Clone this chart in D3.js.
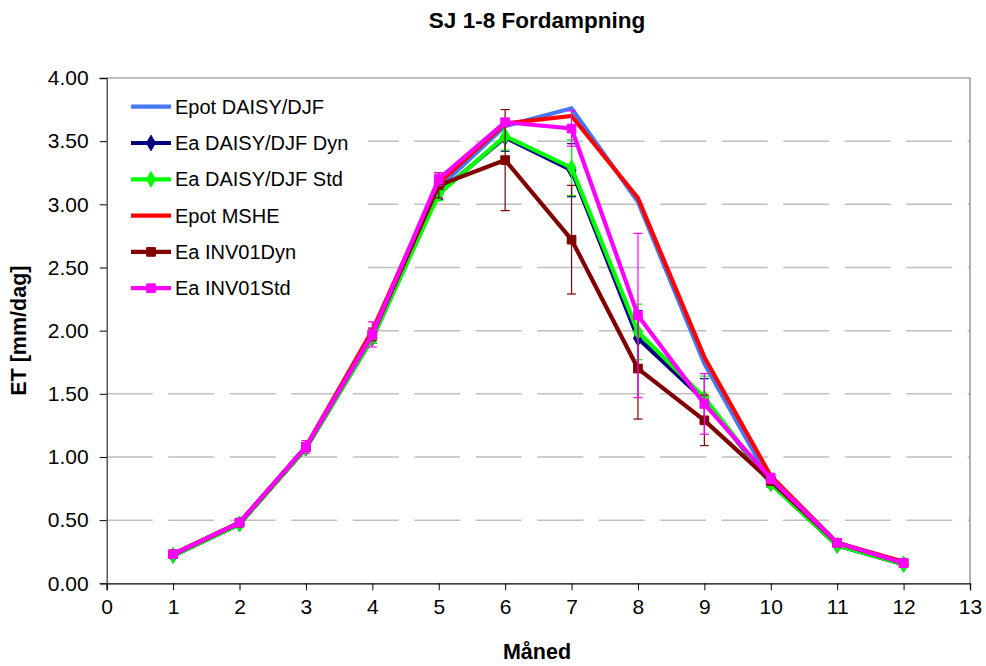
<!DOCTYPE html>
<html><head><meta charset="utf-8">
<script src="https://cdn.jsdelivr.net/npm/d3@7"></script>
<style>body{margin:0;background:#fff;} svg{display:block;font-family:"Liberation Sans",Arial,sans-serif;}</style>
</head><body>
<svg id="c" width="986" height="666"></svg>
<script>
const months = [1,2,3,4,5,6,7,8,9,10,11,12];
const xTicks = [0,1,2,3,4,5,6,7,8,9,10,11,12,13];
const yTicks = [0,0.5,1,1.5,2,2.5,3,3.5,4];
const seriesNames = ["Epot DAISY/DJF","Ea DAISY/DJF Dyn","Ea DAISY/DJF Std","Epot MSHE","Ea INV01Dyn","Ea INV01Std"];
const seriesColors = ["#4678F2","#000080","#00FF00","#FF0000","#800000","#FF00FF"];
const seriesMarkers = ["none","diamond","diamond","none","square","square"];
const epotDaisy = [0.22,0.47,1.07,1.96,3.13,3.62,3.76,3.02,1.74,0.80,0.30,0.15];
const eaDaisyDyn = [0.22,0.47,1.07,1.94,3.09,3.53,3.27,1.94,1.45,0.79,0.30,0.15];
const eaDaisyStd = [0.22,0.47,1.07,1.94,3.08,3.54,3.29,1.99,1.47,0.79,0.30,0.15];
const epotMshe = [0.23,0.48,1.08,2.00,3.17,3.64,3.70,3.05,1.79,0.85,0.32,0.17];
const eaInvDyn = [0.23,0.48,1.08,1.97,3.15,3.35,2.72,1.70,1.29,0.81,0.32,0.16];
const eaInvStd = [0.23,0.48,1.08,1.97,3.20,3.65,3.60,2.12,1.42,0.83,0.32,0.16];
const errDaisyDyn = [0.01,0.01,0.02,0.04,0.05,0.11,0.21,0.22,0.17,0.03,0.01,0.01];
const errDaisyStd = [0.01,0.01,0.02,0.04,0.05,0.11,0.22,0.22,0.17,0.03,0.01,0.01];
const errInvDyn = [0.01,0.01,0.02,0.05,0.10,0.40,0.43,0.40,0.20,0.03,0.01,0.01];
const errInvStd = [0.01,0.02,0.05,0.10,0.05,0.02,0.14,0.65,0.24,0.04,0.02,0.01];
const seriesValues = [epotDaisy,eaDaisyDyn,eaDaisyStd,epotMshe,eaInvDyn,eaInvStd];
const seriesErrors = [null,errDaisyDyn,errDaisyStd,null,errInvDyn,errInvStd];

const svg = d3.select("#c");
const L=106.7, R=970, T=78, B=583.3;
const x = d3.scaleLinear().domain([0,13]).range([L,R]);
const y = d3.scaleLinear().domain([0,4]).range([B,T]);

// title
svg.append("text").attr("x",537).attr("y",28).attr("text-anchor","middle")
  .attr("font-size",22.5).attr("font-weight","bold").text("SJ 1-8 Fordampning");

// gridlines
svg.append("g").selectAll("line").data(yTicks.filter(d=>d>0&&d<4)).join("line")
  .attr("x1",L).attr("x2",R).attr("y1",d=>y(d)).attr("y2",d=>y(d))
  .attr("stroke","#C0C0C0").attr("stroke-width",1.5).attr("stroke-dasharray","46,15.5");

// plot border top/right
svg.append("path").attr("d",`M${L},${T}H${R}V${B}`).attr("fill","none").attr("stroke","#808080").attr("stroke-width",1.2);

// legend background
svg.append("rect").attr("x",L+1).attr("y",T+4).attr("width",368-L-1).attr("height",262).attr("fill","#fff");

// axes
const xAxis = d3.axisBottom(x).tickValues(xTicks).tickSize(7).tickFormat(d3.format("d"));
const gx = svg.append("g").attr("transform",`translate(0,${B})`).call(xAxis);
gx.select(".domain").attr("stroke","#000").attr("stroke-width",1.3);
gx.selectAll(".tick line").attr("stroke","#000");
gx.selectAll("text").attr("font-size",21).attr("font-family","Liberation Sans, Arial, sans-serif").attr("fill","#000").attr("dy","0.9em").attr("y",12);

const yAxis = d3.axisLeft(y).tickValues(yTicks).tickSize(7).tickFormat(d3.format(".2f"));
const gy = svg.append("g").attr("transform",`translate(${L},0)`).call(yAxis);
gy.select(".domain").attr("stroke","#404040").attr("stroke-width",1.3);
gy.selectAll(".tick line").attr("stroke","#000");
gy.selectAll("text").attr("font-size",21).attr("font-family","Liberation Sans, Arial, sans-serif").attr("fill","#000").attr("x",-18);

// axis titles
svg.append("text").attr("x",537).attr("y",659).attr("text-anchor","middle")
  .attr("font-size",21.5).attr("font-weight","bold").text("Måned");
svg.append("text").attr("transform",`translate(26,${(T+B)/2}) rotate(-90)`).attr("text-anchor","middle")
  .attr("font-size",21.5).attr("font-weight","bold").text("ET [mm/dag]");

// series
const line = d3.line().x((d,i)=>x(months[i])).y(d=>y(d));
const sym = {diamond: d3.symbol().type(d3.symbolDiamond).size(70), square: d3.symbol().type(d3.symbolSquare).size(75)};
seriesValues.forEach((vals,si)=>{
  const g = svg.append("g");
  const col = seriesColors[si];
  const err = seriesErrors[si];
  if(err){
    const eg = g.append("g");
    vals.forEach((v,i)=>{
      const cx = x(months[i]);
      const y1 = y(v+err[i]), y2 = y(v-err[i]);
      eg.append("line").attr("x1",cx).attr("x2",cx).attr("y1",y1).attr("y2",y2).attr("stroke",col).attr("stroke-width",1.2);
      eg.append("line").attr("x1",cx-4.5).attr("x2",cx+4.5).attr("y1",y1).attr("y2",y1).attr("stroke",col).attr("stroke-width",1.2);
      eg.append("line").attr("x1",cx-4.5).attr("x2",cx+4.5).attr("y1",y2).attr("y2",y2).attr("stroke",col).attr("stroke-width",1.2);
    });
  }
  g.append("path").attr("d",line(vals)).attr("fill","none").attr("stroke",col).attr("stroke-width",4.2).attr("stroke-linejoin","miter");
  if(seriesMarkers[si]!=="none"){
    g.selectAll("path.m").data(vals).join("path").attr("class","m")
      .attr("transform",(d,i)=>`translate(${x(months[i])},${y(d)})`)
      .attr("d",sym[seriesMarkers[si]]).attr("fill",col).attr("stroke",col);
  }
});

// legend
const rowY0 = 106.7, rowDy = 36.3;
seriesNames.forEach((name,si)=>{
  const ry = rowY0 + si*rowDy;
  const col = seriesColors[si];
  svg.append("line").attr("x1",131).attr("x2",171).attr("y1",ry).attr("y2",ry).attr("stroke",col).attr("stroke-width",4.2);
  if(seriesMarkers[si]!=="none"){
    svg.append("path").attr("transform",`translate(151,${ry})`).attr("d",sym[seriesMarkers[si]]).attr("fill",col).attr("stroke",col);
  }
  svg.append("text").attr("x",175).attr("y",ry+7).attr("font-size",20).attr("fill","#000").text(name);
});
</script>
</body></html>
